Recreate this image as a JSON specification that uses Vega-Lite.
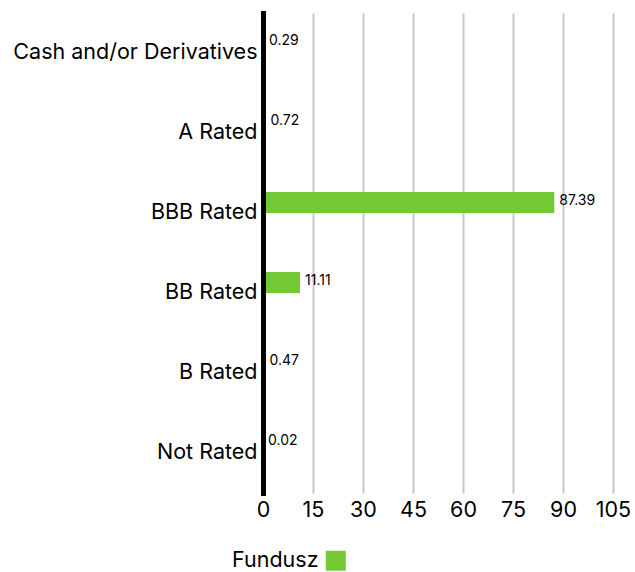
{
  "$schema": "https://vega.github.io/schema/vega-lite/v6.json",
  "width": 350,
  "height": 480,
  "autosize": {"type": "none"},
  "padding": {"left": 263, "top": 13, "right": 22, "bottom": 79},
  "config": {"view": {"stroke": null}, "font": "Inter"},
  "data": {
    "values": [
      {"category": "Cash and/or Derivatives", "value": 0.29, "series": "Fundusz"},
      {"category": "A Rated", "value": 0.72, "series": "Fundusz"},
      {"category": "BBB Rated", "value": 87.39, "series": "Fundusz"},
      {"category": "BB Rated", "value": 11.11, "series": "Fundusz"},
      {"category": "B Rated", "value": 0.47, "series": "Fundusz"},
      {"category": "Not Rated", "value": 0.02, "series": "Fundusz"}
    ]
  },
  "encoding": {
    "y": {
      "field": "category",
      "type": "nominal",
      "sort": null,
      "scale": {"paddingInner": 0, "paddingOuter": 0},
      "axis": {
        "title": null,
        "zindex": 1,
        "domainColor": "#000000",
        "domainWidth": 5,
        "domainCap": "square",
        "ticks": false,
        "labelFontSize": 21.5,
        "labelColor": "#000000",
        "labelPadding": 6,
        "labelLimit": 300
      }
    },
    "x": {
      "field": "value",
      "type": "quantitative",
      "scale": {"domain": [0, 105], "nice": false},
      "axis": {
        "title": null,
        "values": [0, 15, 30, 45, 60, 75, 90, 105],
        "domain": false,
        "ticks": false,
        "grid": true,
        "gridColor": "#c8c8c8",
        "gridWidth": 2,
        "labelFontSize": 21.5,
        "labelColor": "#000000",
        "labelPadding": 6,
        "labelFlush": false
      }
    }
  },
  "layer": [
    {
      "mark": {"type": "bar", "height": {"band": 0.26}, "yOffset": -10.5},
      "encoding": {
        "color": {
          "field": "series",
          "type": "nominal",
          "scale": {"range": ["#72C935"]},
          "legend": {
            "title": null,
            "orient": "none",
            "legendX": 62,
            "legendY": 537,
            "padding": 0,
            "symbolType": "square",
            "symbolSize": 400,
            "symbolStrokeWidth": 0,
            "symbolOpacity": 1,
            "labelAlign": "right",
            "labelOffset": -28,
            "labelFontSize": 21.5,
            "labelColor": "#000000"
          }
        }
      }
    },
    {
      "mark": {"type": "text", "align": "left", "baseline": "middle", "dx": 5, "dy": -12, "fontSize": 14, "color": "#000000"},
      "encoding": {"text": {"field": "value", "type": "quantitative", "format": ".2f"}}
    }
  ]
}
